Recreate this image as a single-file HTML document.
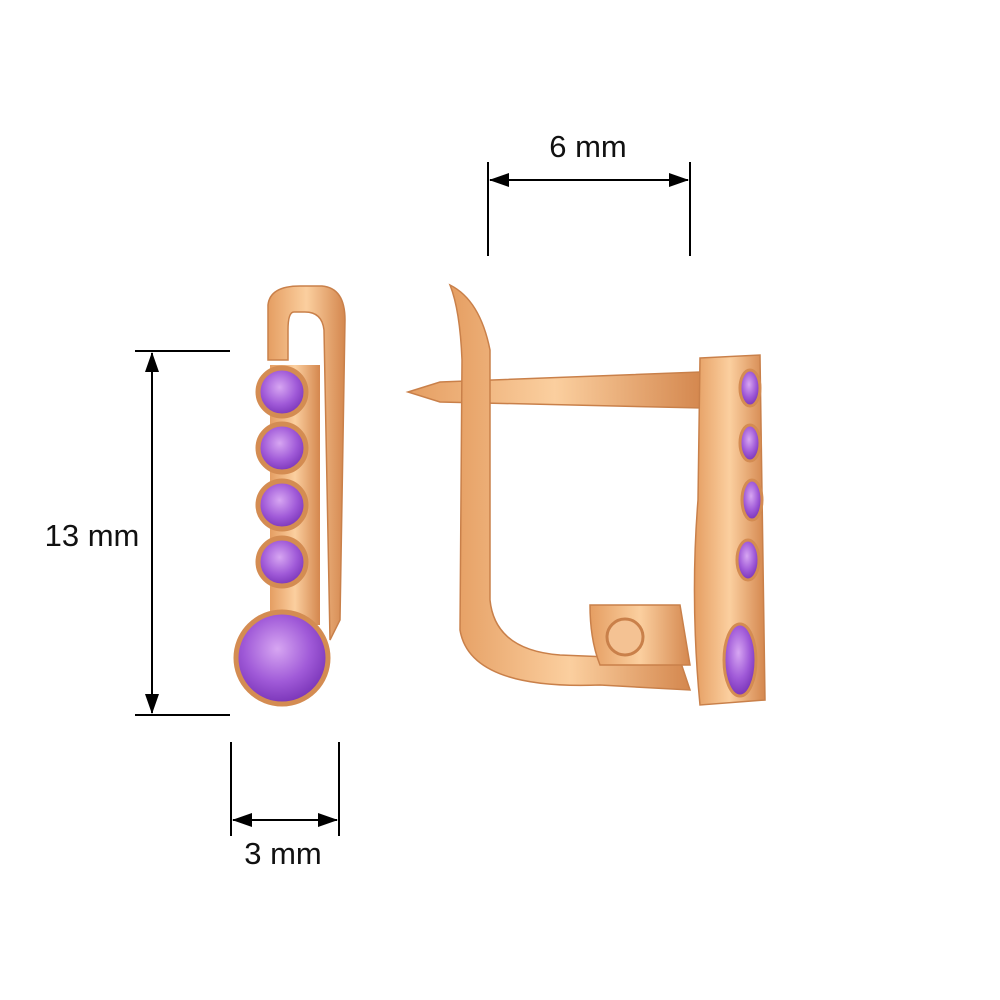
<!DOCTYPE html>
<html><head><meta charset="utf-8"><style>
html,body{margin:0;padding:0;background:#fff;}
svg{display:block;}
text{font-family:"Liberation Sans",sans-serif;font-size:31px;fill:#111;}
</style></head><body>
<svg width="1000" height="1000" viewBox="0 0 1000 1000" xmlns="http://www.w3.org/2000/svg">
<defs>
<linearGradient id="g" x1="0" x2="1" y1="0" y2="0">
<stop offset="0" stop-color="#e59e62"/><stop offset="0.5" stop-color="#fbcf9f"/><stop offset="1" stop-color="#d4874e"/>
</linearGradient>
<radialGradient id="p" cx="0.45" cy="0.4" r="0.6">
<stop offset="0" stop-color="#d7a6f2"/><stop offset="0.6" stop-color="#a05ad8"/><stop offset="1" stop-color="#7a35b8"/>
</radialGradient>
<marker id="a" markerWidth="20" markerHeight="14" refX="19" refY="7" orient="auto-start-reverse" markerUnits="userSpaceOnUse" viewBox="0 0 20 14"><path d="M0,0L20,7L0,14z" fill="#000"/></marker>
</defs>
<g stroke="#000" stroke-width="2" fill="none">
<line x1="488" y1="162" x2="488" y2="256"/><line x1="690" y1="162" x2="690" y2="256"/>
<line x1="490" y1="180" x2="688" y2="180" marker-start="url(#a)" marker-end="url(#a)"/>
<line x1="135" y1="351" x2="230" y2="351"/><line x1="135" y1="715" x2="230" y2="715"/>
<line x1="152" y1="353" x2="152" y2="713" marker-start="url(#a)" marker-end="url(#a)"/>
<line x1="231" y1="742" x2="231" y2="836"/><line x1="339" y1="742" x2="339" y2="836"/>
<line x1="233" y1="820" x2="337" y2="820" marker-start="url(#a)" marker-end="url(#a)"/>
</g>
<text x="588" y="157" text-anchor="middle">6 mm</text>
<text x="92" y="546" text-anchor="middle">13 mm</text>
<text x="283" y="864" text-anchor="middle">3 mm</text>
<path d="M268,360 L268,305 Q270,286 300,286 L322,286 Q345,288 345,320 L340,620 L330,640 L324,330 Q322,312 305,312 L294,312 Q288,312 288,330 L288,360 Z" fill="url(#g)" stroke="#c9804a" stroke-width="1.5"/>
<rect x="270" y="365" width="50" height="260" fill="url(#g)"/>
<g stroke="#d48c52" stroke-width="5" fill="url(#p)">
<circle cx="282" cy="392" r="24"/><circle cx="282" cy="448" r="24"/>
<circle cx="282" cy="505" r="24"/><circle cx="282" cy="562" r="24"/>
<circle cx="282" cy="658" r="46"/>
</g>
<path d="M408,392 L440,382 L700,372 L702,408 L440,402 Z" fill="url(#g)" stroke="#c9804a" stroke-width="1.5"/>
<path d="M450,285 Q480,300 490,350 L490,600 Q495,650 560,655 L680,660 L690,690 L600,685 Q470,690 460,630 L462,360 Q460,310 450,285 Z" fill="url(#g)" stroke="#c9804a" stroke-width="1.5"/>
<path d="M590,605 L680,605 L690,665 L600,665 Q590,640 590,605Z" fill="url(#g)" stroke="#c9804a" stroke-width="1.5"/>
<circle cx="625" cy="637" r="18" fill="#f4c293" stroke="#c9804a" stroke-width="3"/>
<path d="M700,358 L760,355 L765,700 L700,705 Q690,600 698,500 Z" fill="url(#g)" stroke="#c9804a" stroke-width="1.5"/>
<g fill="url(#p)" stroke="#d48c52" stroke-width="3">
<ellipse cx="750" cy="388" rx="10" ry="18"/><ellipse cx="750" cy="443" rx="10" ry="18"/>
<ellipse cx="752" cy="500" rx="10" ry="20"/><ellipse cx="748" cy="560" rx="11" ry="20"/>
<ellipse cx="740" cy="660" rx="16" ry="36"/>
</g>
</svg>
</body></html>
